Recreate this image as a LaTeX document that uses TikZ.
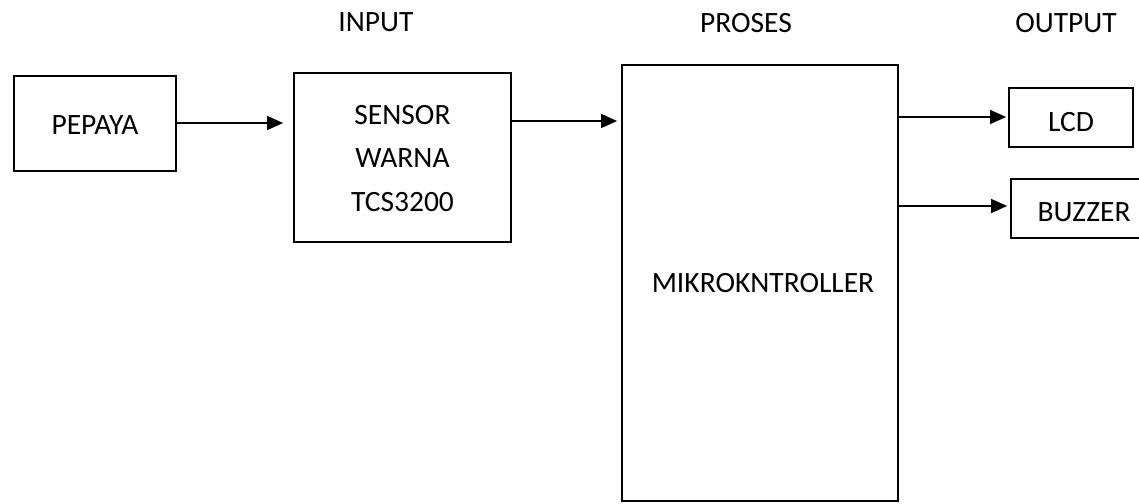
\documentclass[tikz,border=0pt]{standalone}
\usepackage{fontspec}
\setmainfont{Carlito}
\usetikzlibrary{arrows.meta}
\begin{document}
\begin{tikzpicture}[x=1pt,y=-1pt,
  blk/.style={draw=black,line width=1.8pt,inner sep=0pt,align=center},
  txt/.style={inner sep=0pt,align=center,font=\fontsize{29.5}{43.5}\selectfont},
  lbl/.style={inner sep=0pt,font=\fontsize{29.5}{35}\selectfont},
  arr/.style={line width=1.3pt,-{Triangle[length=16pt,width=14pt]}}]
\useasboundingbox (0,0) rectangle (1139,503);
\clip (0,0) rectangle (1139,503);
% headers
\node[lbl] (hin) at (376,22) {INPUT};
\node[lbl] (hpr) at (746,23) {PROSES};
\node[lbl] (hout) at (1066,23) {OUTPUT};
% blocks
\node[blk,minimum width=162,minimum height=95] (pepaya) at (95,123.5) {};
\node[txt] (tpep) at (95,125) {PEPAYA};
\node[blk,minimum width=217,minimum height=169] (sensor) at (402.5,157.5) {};
\node[txt] (tsen) at (402.5,158.5) {SENSOR\\WARNA\\TCS3200};
\node[blk,minimum width=276,minimum height=436] (mk) at (760,283) {};
\node[txt] (tmk) at (763,283) {MIKROKNTROLLER};
\node[blk,minimum width=124,minimum height=59] (lcd) at (1071,117.5) {};
\node[txt] (tlcd) at (1071,122) {LCD};
\node[blk,minimum width=146,minimum height=59] (buz) at (1084,208.5) {};
\node[txt] (tbuz) at (1084,212) {BUZZER};
% connectors
\coordinate (y1) at (0,123);
\coordinate (y2) at (0,121);
\coordinate (y3) at (0,117);
\coordinate (y4) at (0,206);
\draw[arr] (pepaya.east |- y1) -- ([xshift=-10pt]sensor.west |- y1);
\draw[arr] (sensor.east |- y2) -- ([xshift=-4pt]mk.west |- y2);
\draw[arr] (mk.east |- y3) -- ([xshift=-2pt]lcd.west |- y3);
\draw[arr] (mk.east |- y4) -- ([xshift=-3pt]buz.west |- y4);
\end{tikzpicture}
\end{document}
